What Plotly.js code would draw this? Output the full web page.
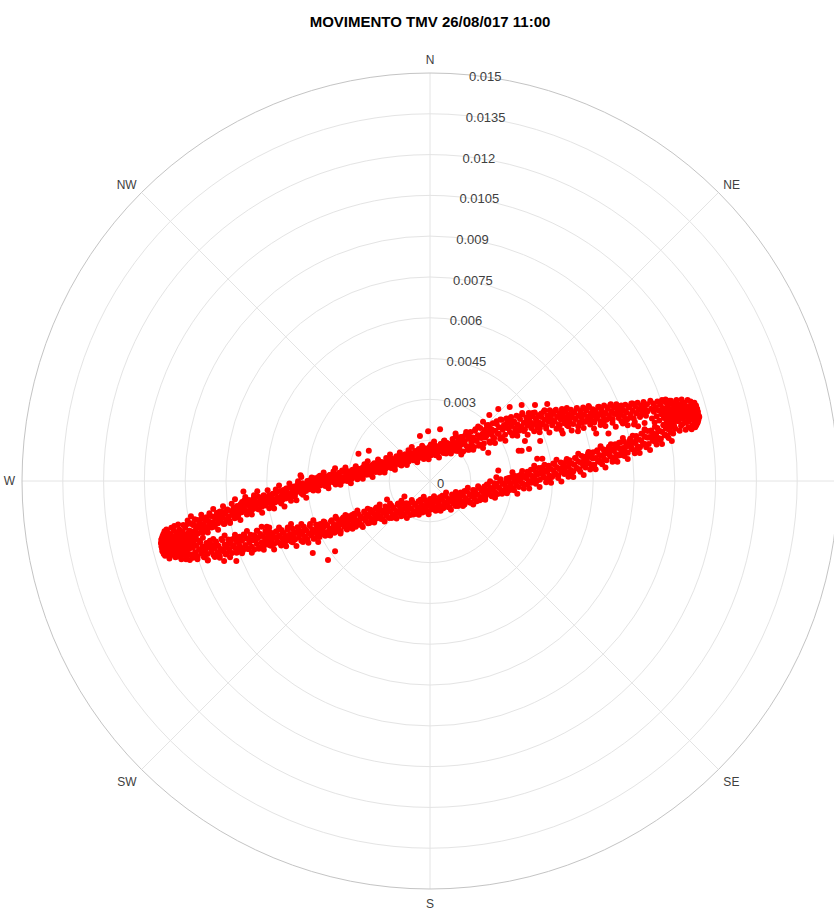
<!DOCTYPE html>
<html>
<head>
<meta charset="utf-8">
<script src="https://cdn.plot.ly/plotly-3.0.1.min.js"></script>
<style>
  html, body { margin: 0; padding: 0; background: #ffffff; overflow: hidden; }
</style>
</head>
<body>
<div id="chart"></div>
<script>
// Title and compass / ring labelling
const chartTitle = 'MOVIMENTO TMV 26/08/017 11:00';
const compassAngles = [0, 45, 90, 135, 180, 225, 270, 315];
const compassLabels = ['N', 'NE', '', 'SE', 'S', 'SW', 'W', 'NW'];
const ringValues = [0, 0.0015, 0.003, 0.0045, 0.006, 0.0075, 0.009, 0.0105, 0.012, 0.0135, 0.015];
const ringLabels = ['0', '0.0015', '0.003', '0.0045', '0.006', '0.0075', '0.009', '0.0105', '0.012', '0.0135', '0.015'];
const radialMax = 0.015;

// Displacement samples [east, north] in millimetres.
// Upper (northern) branch of the orbit, west to east
const upperBranch = [
  [-8.8,-1.55],[-8.78,-1.95],[-8.72,-1.62],[-8.7,-1.88],[-8.65,-1.41],[-8.61,-1.79],[-8.55,-1.67],[-8.52,-1.93],[-8.47,-1.5],[-8.44,-1.74],[-8.4,-1.38],[-8.36,-1.82],[-8.31,-1.58],[-8.28,-1.69],[-8.22,-1.33],[-8.19,-1.77],[-8.15,-1.47],[-8.11,-1.62],[-8.07,-1.29],[-8.03,-1.71],[-8.0,-1.52],
  [-7.96,-1.31],[-7.92,-1.6],[-7.88,-1.4],[-7.84,-1.18],[-7.79,-1.55],[-7.75,-1.27],[-7.71,-1.47],[-7.66,-1.12],[-7.62,-1.36],[-7.58,-1.58],[-7.53,-1.2],[-7.49,-1.41],[-7.45,-1.05],[-7.4,-1.3],[-7.36,-1.48],[-7.31,-1.1],[-7.27,-1.25],[-7.22,-0.98],[-7.18,-1.37],[-7.13,-1.14],[-7.09,-0.92],[-7.05,-1.27],[-7.0,-1.06],
  [-6.96,-0.85],[-6.92,-1.15],[-6.88,-0.95],[-6.83,-0.72],[-6.79,-1.08],[-6.75,-0.88],[-6.7,-1.12],[-6.66,-0.7],[-6.62,-0.95],[-6.57,-0.81],[-6.53,-1.05],[-6.49,-0.64],[-6.44,-0.9],[-6.4,-0.76],[-6.35,-1.02],[-6.31,-0.58],[-6.27,-0.83],[-6.22,-0.69],[-6.18,-0.95],[-6.13,-0.55],[-6.09,-0.78],[-6.05,-0.9],[-6.0,-0.62],
  [-5.96,-0.8],[-5.92,-0.52],[-5.87,-0.71],[-5.83,-0.88],[-5.78,-0.47],[-5.74,-0.66],[-5.7,-0.79],[-5.65,-0.42],[-5.61,-0.6],[-5.56,-0.75],[-5.52,-0.37],[-5.47,-0.56],[-5.43,-0.7],[-5.39,-0.33],[-5.34,-0.5],[-5.3,-0.64],[-5.25,-0.28],[-5.21,-0.46],[-5.17,-0.6],[-5.12,-0.22],[-5.08,-0.41],[-5.04,-0.55],[-5.0,-0.2],
  [-4.96,-0.47],[-4.91,-0.3],[-4.87,-0.12],[-4.82,-0.38],[-4.78,-0.24],[-4.73,-0.45],[-4.69,-0.08],[-4.65,-0.29],[-4.6,-0.16],[-4.56,-0.37],[-4.51,0.0],[-4.47,-0.22],[-4.43,-0.3],[-4.38,0.05],[-4.34,-0.14],[-4.29,-0.26],[-4.25,0.1],[-4.21,-0.07],[-4.16,-0.21],[-4.12,0.14],[-4.07,-0.04],[-4.03,-0.17],[-4.0,0.12],
  [-3.96,-0.1],[-3.91,0.06],[-3.87,0.18],[-3.83,-0.06],[-3.78,0.09],[-3.74,-0.12],[-3.69,0.22],[-3.65,0.02],[-3.61,0.13],[-3.56,-0.05],[-3.52,0.27],[-3.47,0.08],[-3.43,-0.02],[-3.39,0.19],[-3.34,0.3],[-3.3,0.04],[-3.25,0.15],[-3.21,0.0],[-3.16,0.33],[-3.12,0.1],[-3.08,0.22],[-3.03,0.05],[-3.0,0.36],
  [-2.96,0.14],[-2.91,0.28],[-2.87,0.08],[-2.82,0.4],[-2.78,0.2],[-2.73,0.33],[-2.69,0.12],[-2.64,0.45],[-2.6,0.26],[-2.56,0.37],[-2.51,0.18],[-2.47,0.5],[-2.42,0.3],[-2.38,0.42],[-2.34,0.23],[-2.29,0.56],[-2.25,0.36],[-2.2,0.47],[-2.16,0.28],[-2.11,0.6],[-2.07,0.41],[-2.03,0.52],[-2.0,0.33],
  [-1.96,0.65],[-1.91,0.45],[-1.87,0.58],[-1.82,0.38],[-1.78,0.7],[-1.73,0.52],[-1.69,0.63],[-1.64,0.44],[-1.6,0.77],[-1.55,0.57],[-1.51,0.69],[-1.47,0.5],[-1.42,0.83],[-1.38,0.63],[-1.33,0.75],[-1.29,0.55],[-1.24,0.88],[-1.2,0.68],[-1.15,0.81],[-1.11,0.61],[-1.06,0.93],[-1.02,0.74],[-1.0,0.86],
  [-0.96,0.68],[-0.91,0.98],[-0.87,0.8],[-0.82,0.91],[-0.78,0.72],[-0.73,1.04],[-0.69,0.85],[-0.64,0.97],[-0.6,0.78],[-0.55,1.1],[-0.51,0.9],[-0.46,1.02],[-0.42,0.84],[-0.37,1.16],[-0.33,0.96],[-0.28,1.08],[-0.24,0.88],[-0.19,1.2],[-0.15,1.0],[-0.1,1.12],[-0.06,0.93],[-0.02,1.25],[0.0,1.05],
  [0.04,0.95],[0.09,1.22],[0.13,1.04],[0.18,1.31],[0.22,1.13],[0.27,0.99],[0.31,1.27],[0.36,1.08],[0.4,1.36],[0.45,1.17],[0.49,1.03],[0.54,1.31],[0.58,1.12],[0.63,1.4],[0.67,1.21],[0.72,1.07],[0.76,1.35],[0.81,1.16],[0.85,1.44],[0.9,1.25],[0.94,1.11],[0.98,1.39],[1.0,1.2],
  [1.04,1.5],[1.08,1.22],[1.13,1.62],[1.17,1.35],[1.22,1.08],[1.26,1.46],[1.31,1.7],[1.35,1.28],[1.4,1.55],[1.44,1.15],[1.49,1.8],[1.53,1.42],[1.58,1.6],[1.62,1.25],[1.67,1.9],[1.71,1.5],[1.76,1.68],[1.8,1.3],[1.85,1.95],[1.89,1.58],[1.94,1.75],[1.98,1.38],[2.0,1.85],
  [2.04,1.6],[2.09,2.05],[2.13,1.78],[2.18,1.45],[2.22,1.92],[2.27,1.7],[2.31,2.12],[2.36,1.58],[2.4,1.85],[2.45,2.2],[2.49,1.75],[2.54,1.98],[2.58,1.55],[2.63,2.25],[2.67,1.88],[2.72,2.06],[2.76,1.7],[2.81,2.3],[2.85,1.95],[2.9,2.14],[2.94,1.8],[2.98,2.35],[3.0,2.02],
  [3.04,1.75],[3.09,2.2],[3.13,1.93],[3.18,2.4],[3.22,2.08],[3.27,1.85],[3.31,2.28],[3.36,2.0],[3.4,2.45],[3.45,2.14],[3.49,1.9],[3.54,2.33],[3.58,2.05],[3.63,2.5],[3.67,2.2],[3.72,1.95],[3.76,2.38],[3.81,2.1],[3.85,2.52],[3.9,2.25],[3.94,2.0],[3.98,2.42],[4.0,2.15],
  [4.04,1.95],[4.09,2.35],[4.13,2.12],[4.18,2.55],[4.22,2.25],[4.27,2.0],[4.31,2.42],[4.36,2.18],[4.4,2.6],[4.45,2.3],[4.49,2.05],[4.54,2.47],[4.58,2.2],[4.63,2.62],[4.67,2.35],[4.72,2.08],[4.76,2.5],[4.81,2.26],[4.85,2.65],[4.9,2.38],[4.94,2.12],[4.98,2.55],[5.0,2.3],
  [5.04,2.05],[5.09,2.45],[5.13,2.2],[5.18,2.62],[5.22,2.35],[5.27,2.1],[5.31,2.52],[5.36,2.28],[5.4,2.68],[5.45,2.4],[5.49,2.15],[5.54,2.57],[5.58,2.32],[5.63,2.7],[5.67,2.44],[5.72,2.18],[5.76,2.6],[5.81,2.36],[5.85,2.72],[5.9,2.48],[5.94,2.22],[5.98,2.64],[6.0,2.4],
  [6.04,2.15],[6.09,2.55],[6.13,2.3],[6.18,2.72],[6.22,2.45],[6.27,2.2],[6.31,2.62],[6.36,2.38],[6.4,2.78],[6.45,2.5],[6.49,2.25],[6.54,2.66],[6.58,2.42],[6.63,2.8],[6.67,2.55],[6.72,2.28],[6.76,2.7],[6.81,2.46],[6.85,2.82],[6.9,2.58],[6.94,2.32],[6.98,2.74],[7.0,2.5],
  [7.04,2.2],[7.09,2.62],[7.13,2.38],[7.18,2.8],[7.22,2.52],[7.27,2.28],[7.31,2.7],[7.36,2.45],[7.4,2.85],[7.45,2.58],[7.49,2.3],[7.54,2.74],[7.58,2.48],[7.63,2.88],[7.67,2.62],[7.72,2.35],[7.76,2.78],[7.81,2.52],[7.85,2.9],[7.9,2.66],[7.94,2.4],[7.98,2.82],[8.0,2.56]
];

// Second pass over the upper branch
const upperBranchB = [
  [-8.97,-2.15],[-8.91,-1.45],[-8.85,-1.83],[-8.79,-1.3],[-8.73,-1.96],[-8.67,-1.61],[-8.61,-2.09],[-8.55,-1.43],
  [-8.47,-1.62],[-8.41,-1.24],[-8.35,-1.89],[-8.29,-1.41],[-8.23,-1.73],[-8.17,-1.89],[-8.11,-1.19],[-8.05,-1.57],
  [-7.97,-1.03],[-7.91,-1.68],[-7.85,-1.32],[-7.79,-1.79],[-7.73,-1.12],[-7.67,-1.31],[-7.61,-0.93],[-7.55,-1.57],
  [-7.47,-1.08],[-7.41,-1.39],[-7.35,-1.54],[-7.29,-0.84],[-7.23,-1.21],[-7.17,-0.67],[-7.11,-1.33],[-7.05,-0.97],
  [-6.97,-1.43],[-6.91,-0.77],[-6.85,-0.97],[-6.79,-0.59],[-6.73,-1.23],[-6.67,-0.75],[-6.61,-1.07],[-6.55,-1.23],
  [-6.47,-0.52],[-6.41,-0.91],[-6.35,-0.38],[-6.29,-1.05],[-6.23,-0.7],[-6.17,-1.17],[-6.11,-0.52],[-6.05,-0.72],
  [-5.97,-0.34],[-5.91,-1.0],[-5.85,-0.52],[-5.79,-0.85],[-5.73,-1.01],[-5.67,-0.31],[-5.61,-0.7],[-5.55,-0.17],
  [-5.47,-0.83],[-5.41,-0.47],[-5.35,-0.94],[-5.29,-0.28],[-5.23,-0.47],[-5.17,-0.09],[-5.11,-0.73],[-5.05,-0.25],
  [-4.97,-0.56],[-4.91,-0.71],[-4.85,-0.01],[-4.79,-0.39],[-4.73,0.15],[-4.67,-0.51],[-4.61,-0.15],[-4.55,-0.62],
  [-4.47,0.0],[-4.41,-0.15],[-4.35,0.13],[-4.29,-0.35],[-4.23,0.02],[-4.17,-0.22],[-4.11,-0.35],[-4.05,0.19],
  [-3.97,-0.09],[-3.91,0.31],[-3.85,-0.18],[-3.79,0.08],[-3.73,-0.27],[-3.67,0.22],[-3.61,0.06],[-3.55,0.35],
  [-3.47,-0.13],[-3.41,0.23],[-3.35,-0.02],[-3.29,-0.14],[-3.23,0.39],[-3.17,0.09],[-3.11,0.5],[-3.05,0.0],
  [-2.97,0.27],[-2.91,-0.08],[-2.85,0.41],[-2.79,0.26],[-2.73,0.54],[-2.67,0.06],[-2.61,0.43],[-2.55,0.19],
  [-2.47,0.08],[-2.41,0.62],[-2.35,0.32],[-2.29,0.73],[-2.23,0.24],[-2.17,0.5],[-2.11,0.15],[-2.05,0.65],
  [-1.97,0.5],[-1.91,0.79],[-1.85,0.31],[-1.79,0.67],[-1.73,0.43],[-1.67,0.31],[-1.61,0.85],[-1.55,0.55],
  [-1.47,0.97],[-1.41,0.48],[-1.35,0.75],[-1.29,0.41],[-1.23,0.91],[-1.17,0.76],[-1.11,1.05],[-1.05,0.57],
  [-0.97,0.95],[-0.91,0.71],[-0.85,0.59],[-0.79,1.13],[-0.73,0.84],[-0.67,1.25],[-0.61,0.76],[-0.55,1.03],
  [-0.47,0.69],[-0.41,1.18],[-0.35,1.02],[-0.29,1.3],[-0.23,0.81],[-0.17,1.18],[-0.11,0.93],[-0.05,0.8],
  [0.03,1.34],[0.09,1.04],[0.15,1.45],[0.21,0.95],[0.27,1.21],[0.33,0.86],[0.39,1.35],[0.45,1.2],
  [0.53,1.49],[0.59,1.01],[0.65,1.37],[0.71,1.13],[0.77,1.01],[0.83,1.54],[0.89,1.25],[0.95,1.66],
  [1.03,1.1],[1.09,1.45],[1.15,0.97],[1.21,1.63],[1.27,1.43],[1.33,1.8],[1.39,1.15],[1.45,1.63],
  [1.53,1.31],[1.59,1.15],[1.65,1.85],[1.71,1.47],[1.77,2.0],[1.83,1.34],[1.89,1.68],[1.95,1.21],
  [2.03,1.88],[2.09,1.68],[2.15,2.06],[2.21,1.41],[2.27,1.89],[2.33,1.57],[2.39,1.4],[2.45,2.1],
  [2.53,1.73],[2.59,2.26],[2.65,1.6],[2.71,1.95],[2.77,1.48],[2.83,2.14],[2.89,1.93],[2.95,2.31],
  [3.03,1.67],[3.09,2.14],[3.15,1.82],[3.21,1.66],[3.27,2.36],[3.33,1.97],[3.39,2.5],[3.45,1.84],
  [3.53,2.18],[3.59,1.7],[3.65,2.35],[3.71,2.13],[3.77,2.5],[3.83,1.83],[3.89,2.3],[3.95,1.97],
  [4.03,1.79],[4.09,2.48],[4.15,2.09],[4.21,2.6],[4.27,1.93],[4.33,2.26],[4.39,1.78],[4.45,2.43],
  [4.53,2.21],[4.59,2.58],[4.65,1.92],[4.71,2.38],[4.77,2.05],[4.83,1.87],[4.89,2.56],[4.95,2.17],
  [5.03,2.68],[5.09,2.01],[5.15,2.35],[5.21,1.86],[5.27,2.51],[5.33,2.29],[5.39,2.66],[5.45,2.0],
  [5.53,2.46],[5.59,2.13],[5.65,1.95],[5.71,2.64],[5.77,2.24],[5.83,2.76],[5.89,2.08],[5.95,2.42],
  [6.03,1.93],[6.09,2.58],[6.15,2.36],[6.21,2.73],[6.27,2.06],[6.33,2.53],[6.39,2.19],[6.45,2.02],
  [6.53,2.7],[6.59,2.31],[6.65,2.82],[6.71,2.14],[6.77,2.48],[6.83,1.99],[6.89,2.63],[6.95,2.42],
  [7.03,2.78],[7.09,2.11],[7.15,2.57],[7.21,2.23],[7.27,2.05],[7.33,2.74],[7.39,2.34],[7.45,2.85],
  [7.53,2.17],[7.59,2.5],[7.65,2.01],[7.71,2.65],[7.77,2.44],[7.83,2.8],[7.89,2.13],[7.95,2.59]
];

// Lower (southern) branch of the orbit, west to east
const lowerBranch = [
  [-8.8,-2.3],[-8.76,-2.7],[-8.72,-2.45],[-8.67,-2.2],[-8.63,-2.62],[-8.58,-2.38],[-8.54,-2.78],[-8.49,-2.52],[-8.45,-2.25],[-8.4,-2.66],[-8.36,-2.41],[-8.31,-2.8],[-8.27,-2.55],[-8.22,-2.28],[-8.18,-2.68],[-8.13,-2.44],[-8.09,-2.2],[-8.04,-2.6],[-8.0,-2.35],
  [-7.96,-2.72],[-7.91,-2.48],[-7.87,-2.22],[-7.82,-2.62],[-7.78,-2.38],[-7.73,-2.75],[-7.69,-2.5],[-7.64,-2.18],[-7.6,-2.58],[-7.55,-2.33],[-7.51,-2.7],[-7.46,-2.45],[-7.42,-2.15],[-7.37,-2.52],[-7.33,-2.28],[-7.28,-2.65],[-7.24,-2.4],[-7.19,-2.1],[-7.15,-2.48],[-7.1,-2.22],[-7.06,-2.6],[-7.02,-2.34],[-7.0,-2.05],
  [-6.96,-2.45],[-6.91,-2.2],[-6.87,-2.55],[-6.82,-2.02],[-6.78,-2.36],[-6.73,-2.12],[-6.69,-2.5],[-6.64,-2.27],[-6.6,-1.98],[-6.55,-2.42],[-6.51,-2.18],[-6.46,-2.52],[-6.42,-2.05],[-6.37,-2.32],[-6.33,-2.1],[-6.28,-2.45],[-6.24,-1.95],[-6.19,-2.25],[-6.15,-2.02],[-6.1,-2.38],[-6.06,-2.15],[-6.02,-1.9],[-6.0,-2.3],
  [-5.96,-2.05],[-5.91,-2.35],[-5.87,-1.88],[-5.82,-2.2],[-5.78,-1.98],[-5.73,-2.32],[-5.69,-2.1],[-5.64,-1.85],[-5.6,-2.25],[-5.55,-2.0],[-5.51,-2.3],[-5.46,-1.8],[-5.42,-2.12],[-5.37,-1.92],[-5.33,-2.26],[-5.28,-2.04],[-5.24,-1.78],[-5.19,-2.18],[-5.15,-1.95],[-5.1,-2.22],[-5.06,-1.75],[-5.02,-2.08],[-5.0,-1.88],
  [-4.96,-2.15],[-4.91,-1.9],[-4.87,-1.7],[-4.82,-2.08],[-4.78,-1.85],[-4.73,-2.2],[-4.69,-1.95],[-4.64,-1.68],[-4.6,-2.05],[-4.55,-1.82],[-4.51,-2.16],[-4.46,-1.92],[-4.42,-1.65],[-4.37,-2.0],[-4.33,-1.78],[-4.28,-2.12],[-4.24,-1.87],[-4.19,-1.6],[-4.15,-1.96],[-4.1,-1.72],[-4.06,-2.06],[-4.02,-1.82],[-4.0,-1.58],
  [-3.96,-1.95],[-3.91,-1.7],[-3.87,-1.52],[-3.82,-1.88],[-3.78,-1.64],[-3.73,-1.98],[-3.69,-1.75],[-3.64,-1.48],[-3.6,-1.82],[-3.55,-1.58],[-3.51,-1.9],[-3.46,-1.66],[-3.42,-1.4],[-3.37,-1.75],[-3.33,-1.52],[-3.28,-1.84],[-3.24,-1.6],[-3.19,-1.34],[-3.15,-1.68],[-3.1,-1.45],[-3.06,-1.76],[-3.02,-1.53],[-3.0,-1.3],
  [-2.96,-1.65],[-2.91,-1.42],[-2.87,-1.25],[-2.82,-1.58],[-2.78,-1.35],[-2.73,-1.68],[-2.69,-1.45],[-2.64,-1.2],[-2.6,-1.52],[-2.55,-1.3],[-2.51,-1.62],[-2.46,-1.38],[-2.42,-1.12],[-2.37,-1.46],[-2.33,-1.24],[-2.28,-1.55],[-2.24,-1.32],[-2.19,-1.06],[-2.15,-1.4],[-2.1,-1.18],[-2.06,-1.48],[-2.02,-1.26],[-2.0,-1.02],
  [-1.96,-1.38],[-1.91,-1.15],[-1.87,-0.98],[-1.82,-1.3],[-1.78,-1.08],[-1.73,-1.4],[-1.69,-1.18],[-1.64,-0.94],[-1.6,-1.26],[-1.55,-1.04],[-1.51,-1.36],[-1.46,-1.12],[-1.42,-0.9],[-1.37,-1.22],[-1.33,-1.0],[-1.28,-1.33],[-1.24,-1.1],[-1.19,-0.86],[-1.15,-1.18],[-1.1,-0.97],[-1.06,-1.3],[-1.02,-1.07],[-1.0,-0.84],
  [-0.96,-1.22],[-0.91,-1.0],[-0.87,-0.82],[-0.82,-1.14],[-0.78,-0.93],[-0.73,-1.25],[-0.69,-1.02],[-0.64,-0.78],[-0.6,-1.1],[-0.55,-0.88],[-0.51,-1.2],[-0.46,-0.97],[-0.42,-0.74],[-0.37,-1.06],[-0.33,-0.84],[-0.28,-1.16],[-0.24,-0.93],[-0.19,-0.7],[-0.15,-1.02],[-0.1,-0.8],[-0.06,-1.12],[-0.02,-0.89],[0.0,-0.66],
  [0.04,-1.05],[0.09,-0.82],[0.13,-0.62],[0.18,-0.96],[0.22,-0.74],[0.27,-1.06],[0.31,-0.84],[0.36,-0.6],[0.4,-0.92],[0.45,-0.7],[0.49,-1.0],[0.54,-0.78],[0.58,-0.55],[0.63,-0.88],[0.67,-0.66],[0.72,-0.97],[0.76,-0.74],[0.81,-0.5],[0.85,-0.84],[0.9,-0.62],[0.94,-0.92],[0.98,-0.7],[1.0,-0.47],
  [1.04,-0.85],[1.09,-0.62],[1.13,-0.42],[1.18,-0.76],[1.22,-0.54],[1.27,-0.86],[1.31,-0.63],[1.36,-0.38],[1.4,-0.72],[1.45,-0.5],[1.49,-0.8],[1.54,-0.57],[1.58,-0.33],[1.63,-0.66],[1.67,-0.44],[1.72,-0.74],[1.76,-0.5],[1.81,-0.26],[1.85,-0.6],[1.9,-0.37],[1.94,-0.66],[1.98,-0.43],[2.0,-0.2],
  [2.04,-0.58],[2.09,-0.34],[2.13,-0.14],[2.18,-0.48],[2.22,-0.26],[2.27,-0.56],[2.31,-0.33],[2.36,-0.08],[2.4,-0.42],[2.45,-0.18],[2.49,-0.48],[2.54,-0.25],[2.58,0.0],[2.63,-0.34],[2.67,-0.1],[2.72,-0.4],[2.76,-0.17],[2.81,0.08],[2.85,-0.26],[2.9,-0.03],[2.94,-0.33],[2.98,-0.09],[3.0,0.15],
  [3.04,-0.26],[3.09,-0.02],[3.13,0.18],[3.18,-0.16],[3.22,0.07],[3.27,-0.22],[3.31,0.02],[3.36,0.26],[3.4,-0.08],[3.45,0.15],[3.49,-0.14],[3.54,0.1],[3.58,0.34],[3.63,0.0],[3.67,0.23],[3.72,-0.06],[3.76,0.18],[3.81,0.42],[3.85,0.08],[3.9,0.31],[3.94,0.02],[3.98,0.26],[4.0,0.48],
  [4.04,0.05],[4.09,0.28],[4.13,0.5],[4.18,0.14],[4.22,0.38],[4.27,0.1],[4.31,0.33],[4.36,0.56],[4.4,0.2],[4.45,0.44],[4.49,0.15],[4.54,0.39],[4.58,0.62],[4.63,0.27],[4.67,0.5],[4.72,0.2],[4.76,0.44],[4.81,0.68],[4.85,0.33],[4.9,0.56],[4.94,0.26],[4.98,0.5],[5.0,0.72],
  [5.04,0.3],[5.09,0.54],[5.13,0.76],[5.18,0.4],[5.22,0.64],[5.27,0.35],[5.31,0.6],[5.36,0.84],[5.4,0.48],[5.45,0.72],[5.49,0.42],[5.54,0.67],[5.58,0.92],[5.63,0.56],[5.67,0.8],[5.72,0.5],[5.76,0.75],[5.81,1.0],[5.85,0.64],[5.9,0.88],[5.94,0.58],[5.98,0.83],[6.0,1.06],
  [6.04,0.6],[6.09,0.85],[6.13,1.08],[6.18,0.72],[6.22,0.96],[6.27,0.68],[6.31,0.93],[6.36,1.17],[6.4,0.8],[6.45,1.05],[6.49,0.76],[6.54,1.01],[6.58,1.26],[6.63,0.9],[6.67,1.14],[6.72,0.85],[6.76,1.1],[6.81,1.35],[6.85,0.98],[6.9,1.23],[6.94,0.94],[6.98,1.19],[7.0,1.42],
  [7.04,0.96],[7.09,1.21],[7.13,1.45],[7.18,1.08],[7.22,1.33],[7.27,1.04],[7.31,1.3],[7.36,1.55],[7.4,1.18],[7.45,1.43],[7.49,1.14],[7.54,1.4],[7.58,1.65],[7.63,1.28],[7.67,1.53],[7.72,1.24],[7.76,1.5],[7.81,1.75],[7.85,1.38],[7.9,1.63],[7.94,1.34],[7.98,1.6],[8.0,1.84],
  [8.04,1.36],[8.09,1.62],[8.13,1.86],[8.18,1.48],[8.22,1.74],[8.27,1.45],[8.31,1.7],[8.36,1.95],[8.4,1.58],[8.45,1.84],[8.49,1.55],[8.54,1.8],[8.58,2.05],[8.63,1.68],[8.67,1.94],[8.72,1.65],[8.76,1.9],[8.81,2.15],[8.85,1.78],[8.9,2.04],[8.94,1.75],[8.98,2.0],[9.0,2.25]
];

// Second pass over the lower branch
const lowerBranchB = [
  [-8.97,-2.88],[-8.91,-2.25],[-8.85,-2.48],[-8.79,-2.12],[-8.73,-2.8],[-8.67,-2.34],[-8.61,-2.69],[-8.55,-2.88],
  [-8.47,-2.2],[-8.41,-2.6],[-8.35,-2.09],[-8.29,-2.76],[-8.23,-2.43],[-8.17,-2.92],[-8.11,-2.28],[-8.05,-2.49],
  [-7.97,-2.13],[-7.91,-2.79],[-7.85,-2.32],[-7.79,-2.65],[-7.73,-2.82],[-7.67,-2.13],[-7.61,-2.52],[-7.55,-2.0],
  [-7.47,-2.66],[-7.41,-2.32],[-7.35,-2.8],[-7.29,-2.15],[-7.23,-2.36],[-7.17,-1.98],[-7.11,-2.64],[-7.05,-2.17],
  [-6.97,-2.49],[-6.91,-2.66],[-6.85,-1.97],[-6.79,-2.36],[-6.73,-1.84],[-6.67,-2.5],[-6.61,-2.16],[-6.55,-2.64],
  [-6.47,-1.99],[-6.41,-2.2],[-6.35,-1.83],[-6.29,-2.49],[-6.23,-2.02],[-6.17,-2.35],[-6.11,-2.53],[-6.05,-1.84],
  [-5.97,-2.23],[-5.91,-1.71],[-5.85,-2.38],[-5.79,-2.04],[-5.73,-2.52],[-5.67,-1.87],[-5.61,-2.08],[-5.55,-1.71],
  [-5.47,-2.37],[-5.41,-1.9],[-5.35,-2.23],[-5.29,-2.4],[-5.23,-1.71],[-5.17,-2.1],[-5.11,-1.58],[-5.05,-2.25],
  [-4.97,-1.91],[-4.91,-2.39],[-4.85,-1.74],[-4.79,-1.95],[-4.73,-1.58],[-4.67,-2.24],[-4.61,-1.78],[-4.55,-2.11],
  [-4.47,-2.27],[-4.41,-1.58],[-4.35,-1.97],[-4.29,-1.44],[-4.23,-2.11],[-4.17,-1.77],[-4.11,-2.24],[-4.05,-1.59],
  [-3.97,-1.79],[-3.91,-1.49],[-3.85,-2.01],[-3.79,-1.62],[-3.73,-1.87],[-3.67,-2.0],[-3.61,-1.44],[-3.55,-1.74],
  [-3.47,-1.31],[-3.41,-1.84],[-3.35,-1.56],[-3.29,-1.93],[-3.23,-1.4],[-3.17,-1.56],[-3.11,-1.25],[-3.05,-1.78],
  [-2.97,-1.38],[-2.91,-1.63],[-2.85,-1.76],[-2.79,-1.2],[-2.73,-1.5],[-2.67,-1.08],[-2.61,-1.61],[-2.55,-1.32],
  [-2.47,-1.69],[-2.41,-1.16],[-2.35,-1.33],[-2.29,-1.02],[-2.23,-1.54],[-2.17,-1.16],[-2.11,-1.41],[-2.05,-1.53],
  [-1.97,-0.97],[-1.91,-1.28],[-1.85,-0.86],[-1.79,-1.4],[-1.73,-1.12],[-1.67,-1.49],[-1.61,-0.97],[-1.55,-1.13],
  [-1.47,-0.83],[-1.41,-1.36],[-1.35,-0.98],[-1.29,-1.24],[-1.23,-1.38],[-1.17,-0.83],[-1.11,-1.14],[-1.05,-0.73],
  [-0.97,-1.26],[-0.91,-0.98],[-0.85,-1.36],[-0.79,-0.84],[-0.73,-1.01],[-0.67,-0.7],[-0.61,-1.23],[-0.55,-0.85],
  [-0.47,-1.11],[-0.41,-1.24],[-0.35,-0.69],[-0.29,-1.0],[-0.23,-0.58],[-0.17,-1.12],[-0.11,-0.84],[-0.05,-1.22],
  [0.03,-0.69],[0.09,-0.86],[0.15,-0.56],[0.21,-1.09],[0.27,-0.71],[0.33,-0.96],[0.39,-1.09],[0.45,-0.54],
  [0.53,-0.84],[0.59,-0.42],[0.65,-0.96],[0.71,-0.68],[0.77,-1.06],[0.83,-0.53],[0.89,-0.7],[0.95,-0.4],
  [1.03,-0.92],[1.09,-0.54],[1.15,-0.79],[1.21,-0.92],[1.27,-0.37],[1.33,-0.67],[1.39,-0.25],[1.45,-0.78],
  [1.53,-0.49],[1.59,-0.86],[1.65,-0.34],[1.71,-0.5],[1.77,-0.19],[1.83,-0.71],[1.89,-0.32],[1.95,-0.58],
  [2.03,-0.69],[2.09,-0.13],[2.15,-0.44],[2.21,-0.01],[2.27,-0.54],[2.33,-0.25],[2.39,-0.62],[2.45,-0.1],
  [2.53,-0.25],[2.59,0.06],[2.65,-0.47],[2.71,-0.08],[2.77,-0.33],[2.83,-0.45],[2.89,0.11],[2.95,-0.2],
  [3.03,0.32],[3.09,-0.34],[3.15,0.0],[3.21,-0.47],[3.27,0.19],[3.33,-0.01],[3.39,0.37],[3.45,-0.28],
  [3.53,0.2],[3.59,-0.12],[3.65,-0.28],[3.71,0.41],[3.77,0.03],[3.83,0.56],[3.89,-0.1],[3.95,0.25],
  [4.03,-0.22],[4.09,0.43],[4.15,0.23],[4.21,0.6],[4.27,-0.05],[4.33,0.43],[4.39,0.1],[4.45,-0.06],
  [4.53,0.64],[4.59,0.25],[4.65,0.78],[4.71,0.11],[4.77,0.45],[4.83,-0.02],[4.89,0.63],[4.95,0.43],
  [5.03,0.81],[5.09,0.16],[5.15,0.64],[5.21,0.31],[5.27,0.15],[5.33,0.85],[5.39,0.47],[5.45,1.0],
  [5.53,0.34],[5.59,0.69],[5.65,0.22],[5.71,0.89],[5.77,0.69],[5.83,1.07],[5.89,0.42],[5.95,0.9],
  [6.03,0.59],[6.09,0.43],[6.15,1.13],[6.21,0.75],[6.27,1.28],[6.33,0.62],[6.39,0.97],[6.45,0.5],
  [6.53,1.17],[6.59,0.97],[6.65,1.35],[6.71,0.71],[6.77,1.19],[6.83,0.87],[6.89,0.71],[6.95,1.41],
  [7.03,1.04],[7.09,1.58],[7.15,0.92],[7.21,1.27],[7.27,0.81],[7.33,1.47],[7.39,1.28],[7.45,1.66],
  [7.53,1.02],[7.59,1.51],[7.65,1.19],[7.71,1.03],[7.77,1.74],[7.83,1.36],[7.89,1.9],[7.95,1.24],
  [8.03,1.6],[8.09,1.14],[8.15,1.8],[8.21,1.6],[8.27,1.99],[8.33,1.34],[8.39,1.83],[8.45,1.51],
  [8.53,1.36],[8.59,2.07],[8.65,1.7],[8.71,2.23],[8.77,1.58],[8.83,1.94],[8.89,1.47],[8.95,2.14]
];

// Turning point at the west end
const westTurn = [
  [-9.88,-2.3],[-9.86,-2.12],[-9.85,-2.48],[-9.82,-2.2],[-9.8,-2.62],[-9.78,-1.98],[-9.75,-2.38],[-9.72,-2.05],[-9.7,-2.55],[-9.67,-2.25],[-9.65,-1.88],[-9.62,-2.7],[-9.6,-2.15],[-9.57,-2.42],[-9.55,-1.95],[-9.52,-2.6],[-9.5,-2.3],[-9.47,-2.02],[-9.45,-2.5],[-9.42,-1.82],
  [-9.4,-2.72],[-9.37,-2.2],[-9.35,-2.4],[-9.32,-1.9],[-9.3,-2.58],[-9.27,-2.1],[-9.25,-2.32],[-9.22,-1.78],[-9.2,-2.66],[-9.17,-2.0],[-9.15,-2.45],[-9.12,-2.22],[-9.1,-1.85],[-9.07,-2.55],[-9.05,-2.08],[-9.02,-2.35],[-9.0,-1.72],[-8.97,-2.62],[-8.95,-2.15],[-8.92,-2.42],
  [-8.9,-1.92],[-8.87,-2.7],[-8.85,-2.28],[-8.82,-2.05],[-9.87,-2.4],[-9.84,-2.58],[-9.83,-2.02],[-9.79,-2.3],[-9.74,-2.16],[-9.69,-2.42],[-9.64,-2.34],[-9.59,-2.5],[-9.54,-2.12],[-9.49,-2.4],[-9.44,-2.26],[-9.39,-2.05],[-9.34,-2.5],[-9.29,-2.25],[-9.24,-2.48],[-9.19,-2.18],
  [-9.14,-2.6],[-9.09,-2.3],[-9.04,-2.5],[-8.99,-2.25],[-8.94,-2.55],[-9.56,-2.75],[-9.36,-2.8],[-9.16,-2.78],[-8.96,-2.85],[-9.66,-2.66],[-9.85,-2.22],[-9.84,-2.38],[-9.46,-2.64],[-9.26,-2.68],[-9.62,-2.28],[-9.42,-2.45],[-9.22,-2.12],[-9.72,-2.48],[-9.52,-2.2],[-9.32,-2.34],
  [-9.89,-2.28],[-9.88,-2.16],[-9.86,-2.44],[-9.84,-2.08],[-9.82,-2.52],[-9.8,-1.95],[-9.79,-2.68],[-9.77,-2.35],[-9.76,-1.85],[-9.74,-2.75],[-9.73,-2.32],[-9.69,-1.78],[-9.66,-2.5],[-9.62,-2.0],[-9.58,-2.85],[-9.55,-2.36],[-9.51,-1.72],[-9.48,-2.58],[-9.44,-2.1],[-9.4,-1.65],
  [-9.37,-2.62],[-9.33,-2.02],[-9.29,-2.78],[-9.26,-1.6],[-9.22,-2.38],[-9.18,-1.92],[-9.14,-2.88],[-9.11,-2.14],[-9.07,-1.62],[-9.03,-2.7],[-8.99,-1.98],[-8.95,-2.35],[-8.91,-1.58],[-8.87,-2.5],[-8.83,-2.9],[-8.79,-1.85],[-8.75,-2.38],[-8.71,-2.82],[-8.67,-1.98],[-8.63,-2.05]
];

// Turning point at the east end
const eastTurn = [
  [9.9,2.35],[9.86,2.22],[9.83,2.5],[9.84,2.3],[9.82,2.62],[9.82,2.12],[9.8,2.42],[9.76,2.72],[9.73,2.2],[9.7,2.55],[9.66,2.05],[9.63,2.38],[9.6,2.8],[9.56,2.25],[9.53,2.6],[9.5,1.98],[9.46,2.45],[9.43,2.75],[9.4,2.15],[9.36,2.52],
  [9.33,2.88],[9.3,2.3],[9.26,2.65],[9.23,2.02],[9.2,2.42],[9.16,2.82],[9.13,2.2],[9.1,2.58],[9.06,2.92],[9.03,2.35],[9.0,2.7],[8.96,2.1],[8.93,2.5],[8.9,2.85],[8.86,2.28],[8.83,2.62],[8.8,2.95],[8.76,2.4],[8.73,2.75],[8.7,2.15],
  [8.66,2.55],[8.63,2.9],[8.6,2.32],[8.56,2.68],[8.53,2.98],[8.5,2.45],[8.46,2.8],[8.43,2.22],[8.4,2.6],[8.36,2.92],[8.33,2.38],[8.3,2.72],[8.26,2.15],[8.23,2.55],[8.2,2.85],[8.16,2.3],[8.13,2.66],[8.1,2.95],[9.85,2.42],[9.78,2.32],
  [9.68,2.48],[9.58,2.42],[9.48,2.3],[9.38,2.62],[9.28,2.5],[9.18,2.6],[9.08,2.45],[8.98,2.58],[8.88,2.65],[8.78,2.55],[8.68,2.4],[8.58,2.55],[9.58,2.62],[9.38,2.4],[9.18,2.3],[8.98,2.32],[9.7,2.3],[9.5,2.62],[9.3,2.72],[9.1,2.75],
  [9.88,2.4],[9.87,2.28],[9.85,2.55],[9.84,2.15],[9.82,2.66],[9.81,2.35],[9.79,2.05],[9.78,2.78],[9.77,2.48],[9.75,1.98],[9.72,2.88],[9.69,2.4],[9.65,2.68],[9.62,1.9],[9.58,2.92],[9.55,2.5],[9.51,2.18],[9.47,2.98],[9.44,2.58],[9.4,1.88],
  [9.36,2.82],[9.33,2.42],[9.29,2.1],[9.25,3.0],[9.21,2.52],[9.18,1.85],[9.14,2.68],[9.1,2.22],[9.06,2.98],[9.02,1.92],[8.98,2.78],[8.94,2.38],[8.9,2.0],[8.86,2.95],[8.82,2.1],[8.78,2.82],[8.74,1.95],[8.7,2.65],[8.66,3.0],[8.62,2.05]
];

// Isolated samples away from the two branches
const strayPoints = [
  [3.26,1.11],[3.49,1.47],[4.05,1.47],[4.13,0.82],[3.94,0.82],[3.64,1.18],[3.37,1.11],[4.88,1.75],[5.44,1.83],[6.11,1.75],
  [6.56,1.75],[7.5,2.08],[2.14,1.04],[2.51,0.39],[2.44,0.14],[4.31,2.83],[3.86,2.79],[3.37,2.79],[2.93,2.72],[2.51,2.65],
  [1.95,2.18],[2.18,2.43],[-3.75,-2.9],[-3.49,-2.58],[-4.31,-2.65],[-7.12,-2.94],[-7.57,-2.94],[-8.17,-2.9],[-6.37,-1.83],[-6.19,-1.68],
  [-6.0,-1.68],[-1.58,-0.68],[-0.94,-0.57],[-6.86,-0.39],[-2.63,1.0],[-2.25,1.11],[-0.37,1.65],[-0.07,1.83],[-3.49,0.47],[-4.76,0.21],
  [0.37,1.9],[0.94,1.75]
];

// Convert east/north (mm) to compass bearing (deg) and radius (m)
const samples = upperBranch.concat(upperBranchB, lowerBranch, lowerBranchB, westTurn, eastTurn, strayPoints);
const rValues = samples.map(p => Math.hypot(p[0], p[1]) / 1000);
const thetaValues = samples.map(p => Math.atan2(p[0], p[1]) * 180 / Math.PI);

const W = 850, H = 922;
const cx = 430, cy = 481, R = 408;

const trace = {
  type: 'scatterpolar',
  mode: 'markers',
  r: rValues,
  theta: thetaValues,
  marker: { color: '#ff0000', size: 6, line: { width: 0 } },
  hoverinfo: 'skip',
  showlegend: false
};

const fontFamily = 'Liberation Sans, Arial, sans-serif';

const layout = {
  width: W,
  height: H,
  margin: { l: 0, r: 0, t: 0, b: 0 },
  paper_bgcolor: '#ffffff',
  showlegend: false,
  title: {
    text: '<b>' + chartTitle + '</b>',
    font: { family: fontFamily, size: 15, color: '#000000' },
    x: cx / W, xanchor: 'center', xref: 'paper',
    y: 1 - 22 / H, yanchor: 'middle', yref: 'container'
  },
  polar: {
    domain: { x: [(cx - R) / W, (cx + R) / W], y: [(H - cy - R) / H, (H - cy + R) / H] },
    bgcolor: '#ffffff',
    angularaxis: {
      rotation: 90,
      direction: 'clockwise',
      tickmode: 'array',
      tickvals: compassAngles,
      ticktext: compassLabels,
      ticks: 'outside',
      ticklen: 4,
      tickcolor: 'rgba(0,0,0,0)',
      showgrid: true,
      gridcolor: '#e4e4e4',
      gridwidth: 1,
      showline: true,
      linecolor: '#c4c4c4',
      linewidth: 1,
      tickfont: { family: fontFamily, size: 12, color: '#404040' },
      layer: 'below traces'
    },
    radialaxis: {
      range: [0, radialMax],
      tickmode: 'array',
      tickvals: ringValues,
      ticktext: ringLabels,
      angle: 85.5,
      tickangle: 85.5,
      showline: false,
      ticks: '',
      showgrid: true,
      gridcolor: '#e4e4e4',
      gridwidth: 1,
      tickfont: { family: fontFamily, size: 13, color: '#404040' },
      layer: 'below traces'
    }
  }
};

Plotly.newPlot('chart', [trace], layout, { displayModeBar: false, staticPlot: true });
</script>
</body>
</html>
